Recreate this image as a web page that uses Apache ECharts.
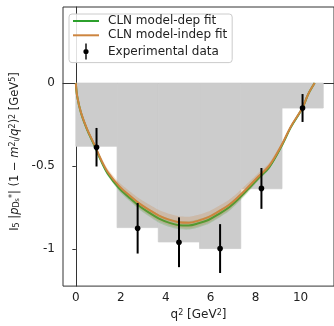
<!DOCTYPE html>
<html>
<head>
<meta charset="utf-8">
<script src="https://cdn.jsdelivr.net/npm/echarts@6/dist/echarts.min.js"></script>
<style>html,body{margin:0;padding:0;background:#fff}#c{width:334px;height:326px}</style>
</head>
<body>
<div id="c"></div>
<script>
// ---- data ----
const binEdges = [0, 1.835, 3.67, 5.505, 7.34, 9.175, 11.01];
const binValues = [-0.38, -0.87, -0.956, -0.996, -0.636, -0.15];

const pointsX = [0.92, 2.75, 4.59, 6.42, 8.26, 10.09];
const pointsY = [-0.386, -0.874, -0.958, -0.996, -0.634, -0.150];
const pointsErr = [0.116, 0.152, 0.150, 0.147, 0.123, 0.084];

const curveQ = [0, 0.06, 0.23, 0.50, 0.84, 1.13, 1.42, 1.94, 2.38, 2.82, 3.26, 3.70, 4.14, 4.58, 5.02, 5.46, 5.90, 6.34, 6.78, 7.22, 7.66, 8.10, 8.61, 9.20, 9.56, 10.08, 10.34, 10.63];
const greenY = [0, -0.08, -0.18, -0.28, -0.38, -0.47, -0.545, -0.635, -0.69, -0.74, -0.78, -0.816, -0.84, -0.855, -0.857, -0.844, -0.824, -0.79, -0.752, -0.70, -0.64, -0.576, -0.506, -0.368, -0.268, -0.152, -0.068, 0];
const orangeY = [0, -0.08, -0.178, -0.277, -0.375, -0.463, -0.535, -0.622, -0.675, -0.724, -0.763, -0.798, -0.822, -0.837, -0.84, -0.828, -0.807, -0.774, -0.737, -0.686, -0.627, -0.565, -0.497, -0.362, -0.264, -0.150, -0.067, 0];
const greenBand = [0, 0.004, 0.006, 0.008, 0.01, 0.012, 0.014, 0.017, 0.019, 0.021, 0.023, 0.024, 0.025, 0.025, 0.025, 0.025, 0.024, 0.023, 0.022, 0.02, 0.018, 0.015, 0.012, 0.009, 0.007, 0.005, 0.003, 0];
const orangeBand = [0, 0.005, 0.008, 0.01, 0.012, 0.015, 0.018, 0.022, 0.026, 0.03, 0.032, 0.034, 0.035, 0.035, 0.035, 0.035, 0.034, 0.033, 0.031, 0.028, 0.025, 0.021, 0.017, 0.012, 0.009, 0.006, 0.004, 0];

const xTicks = [0, 2, 4, 6, 8, 10];
const yTicks = [-1, -0.5, 0];

const seriesNames = ['CLN model-dep fit', 'CLN model-indep fit', 'Experimental data'];
const xTitle = 'q{sup|2} [GeV{sup|2}]';
const yTitle = 'I{sub|5} |{it|p}{sub|D}{ss|s}{sup|*}| (1 − {it|m}{sup|2}{ss|l}/{it|q}{sup|2}){sup|2} [GeV{sup|5}]';
// --------------------------------------

const FONT = 'DejaVu Sans';
const GREEN = '#2ca02c';
const ORANGE = '#cd853f';

const binData = binValues.map((v, i) => [binEdges[i], binEdges[i + 1], v]);
const errData = pointsX.map((x, i) => [x, pointsY[i], pointsErr[i]]);

function bandSeries(yArr, wArr, color, z) {
  const data = curveQ.map((q, i) => [q, yArr[i] - wArr[i], yArr[i] + wArr[i]]);
  return {
    type: 'custom', silent: true, clip: true,
    encode: { x: 0, y: [1, 2] },
    data: data,
    renderItem: function (params, api) {
      if (params.dataIndex !== 0) return;
      const pts = [];
      for (let i = 0; i < data.length; i++) pts.push(api.coord([data[i][0], data[i][2]]));
      for (let i = data.length - 1; i >= 0; i--) pts.push(api.coord([data[i][0], data[i][1]]));
      return { type: 'polygon', shape: { points: pts, smooth: 0.2 }, style: { fill: color } };
    },
    z: z
  };
}

const rich = {
  sup: { fontFamily: FONT, fontSize: 8, verticalAlign: 'top', color: '#222' },
  sub: { fontFamily: FONT, fontSize: 8, verticalAlign: 'bottom', color: '#222' },
  ss: { fontFamily: FONT, fontSize: 6.5, verticalAlign: 'bottom', color: '#222' },
  it: { fontFamily: FONT, fontSize: 11.5, fontStyle: 'italic', color: '#222' }
};

const lineIcon = 'path://M0,0L26,0L26,2L0,2Z';
const errIcon = 'path://M2.3,0L3.7,0L3.7,5.4L2.3,5.4Z M2.3,10.6L3.7,10.6L3.7,16L2.3,16Z M0.4,8A2.6,2.6,0,1,0,5.6,8A2.6,2.6,0,1,0,0.4,8Z';

const chart = echarts.init(document.getElementById('c'), null, { renderer: 'canvas' });
chart.setOption({
  animation: false,
  backgroundColor: '#fff',
  textStyle: { fontFamily: FONT },
  grid: { left: 63, top: 7, right: -3, bottom: 39, show: true, borderColor: '#333', borderWidth: 1, backgroundColor: 'transparent' },
  legend: {
    left: 69, top: 14, orient: 'vertical',
    itemWidth: 26, itemHeight: 16, itemGap: 2.3,
    padding: [1, 5, 3, 4],
    backgroundColor: 'rgba(255,255,255,0.85)', borderColor: '#cccccc', borderWidth: 1, borderRadius: 3,
    textStyle: { fontFamily: FONT, fontSize: 12, color: '#222', padding: [0, 0, 0, 4] },
    data: [
      { name: seriesNames[0], icon: lineIcon },
      { name: seriesNames[1], icon: lineIcon },
      { name: seriesNames[2], icon: errIcon }
    ]
  },
  xAxis: {
    type: 'value', min: -0.572, max: 11.49,
    name: xTitle, nameLocation: 'middle', nameGap: 17,
    nameTextStyle: { fontFamily: FONT, fontSize: 12, color: '#222', rich: rich },
    axisLine: { show: true, lineStyle: { color: '#333', width: 1 } },
    axisTick: { show: true, inside: false, length: 3.5, lineStyle: { color: '#333' }, customValues: xTicks },
    axisLabel: { show: true, margin: 6, fontFamily: FONT, fontSize: 12, color: '#222', customValues: xTicks, formatter: v => String(v) },
    splitLine: { show: false }
  },
  yAxis: {
    type: 'value', min: -1.222, max: 0.458,
    name: yTitle, nameLocation: 'middle', nameGap: 41, nameRotate: 90,
    nameTextStyle: { fontFamily: FONT, fontSize: 11.5, color: '#222', padding: [0, 10, 0, 0], rich: rich },
    axisLine: { show: true, lineStyle: { color: '#333', width: 1 } },
    axisTick: { show: true, inside: false, length: 3.5, lineStyle: { color: '#333' }, customValues: yTicks },
    axisLabel: { show: true, margin: 8, fontFamily: FONT, fontSize: 12, color: '#222', customValues: yTicks, formatter: v => String(v) },
    splitLine: { show: false }
  },
  series: [
    {
      type: 'custom', name: 'hist', silent: true, clip: true,
      encode: { x: [0, 1], y: 2 },
      data: binData,
      renderItem: function (params, api) {
        const p0 = api.coord([api.value(0), 0]);
        const p1 = api.coord([api.value(1), api.value(2)]);
        return { type: 'rect', shape: { x: p0[0], y: p0[1], width: p1[0] - p0[0], height: p1[1] - p0[1] }, style: { fill: '#cccccc', stroke: '#cccccc', lineWidth: 0.8 } };
      },
      z: 1
    },
    bandSeries(greenY, greenBand, 'rgba(44,160,44,0.22)', 3),
    {
      type: 'line', name: seriesNames[0], data: curveQ.map((q, i) => [q, greenY[i]]),
      symbol: 'none', smooth: 0.35, lineStyle: { color: GREEN, width: 2 }, itemStyle: { color: GREEN }, z: 4
    },
    bandSeries(orangeY, orangeBand, 'rgba(205,133,63,0.25)', 5),
    {
      type: 'line', name: seriesNames[1], data: curveQ.map((q, i) => [q, orangeY[i]]),
      symbol: 'none', smooth: 0.35, lineStyle: { color: ORANGE, width: 2 }, itemStyle: { color: ORANGE }, z: 6
    },
    {
      type: 'custom', name: seriesNames[2],
      encode: { x: 0, y: 1 },
      itemStyle: { color: '#000' },
      data: errData,
      renderItem: function (params, api) {
        const x = api.value(0), y = api.value(1), e = api.value(2);
        const top = api.coord([x, y + e]);
        const bot = api.coord([x, y - e]);
        const c = api.coord([x, y]);
        return {
          type: 'group',
          children: [
            { type: 'line', shape: { x1: top[0], y1: top[1], x2: bot[0], y2: bot[1] }, style: { stroke: '#000', lineWidth: 2 } },
            { type: 'circle', shape: { cx: c[0], cy: c[1], r: 2.8 }, style: { fill: '#000' } }
          ]
        };
      },
      z: 8
    }
  ]
});
</script>
</body>
</html>
